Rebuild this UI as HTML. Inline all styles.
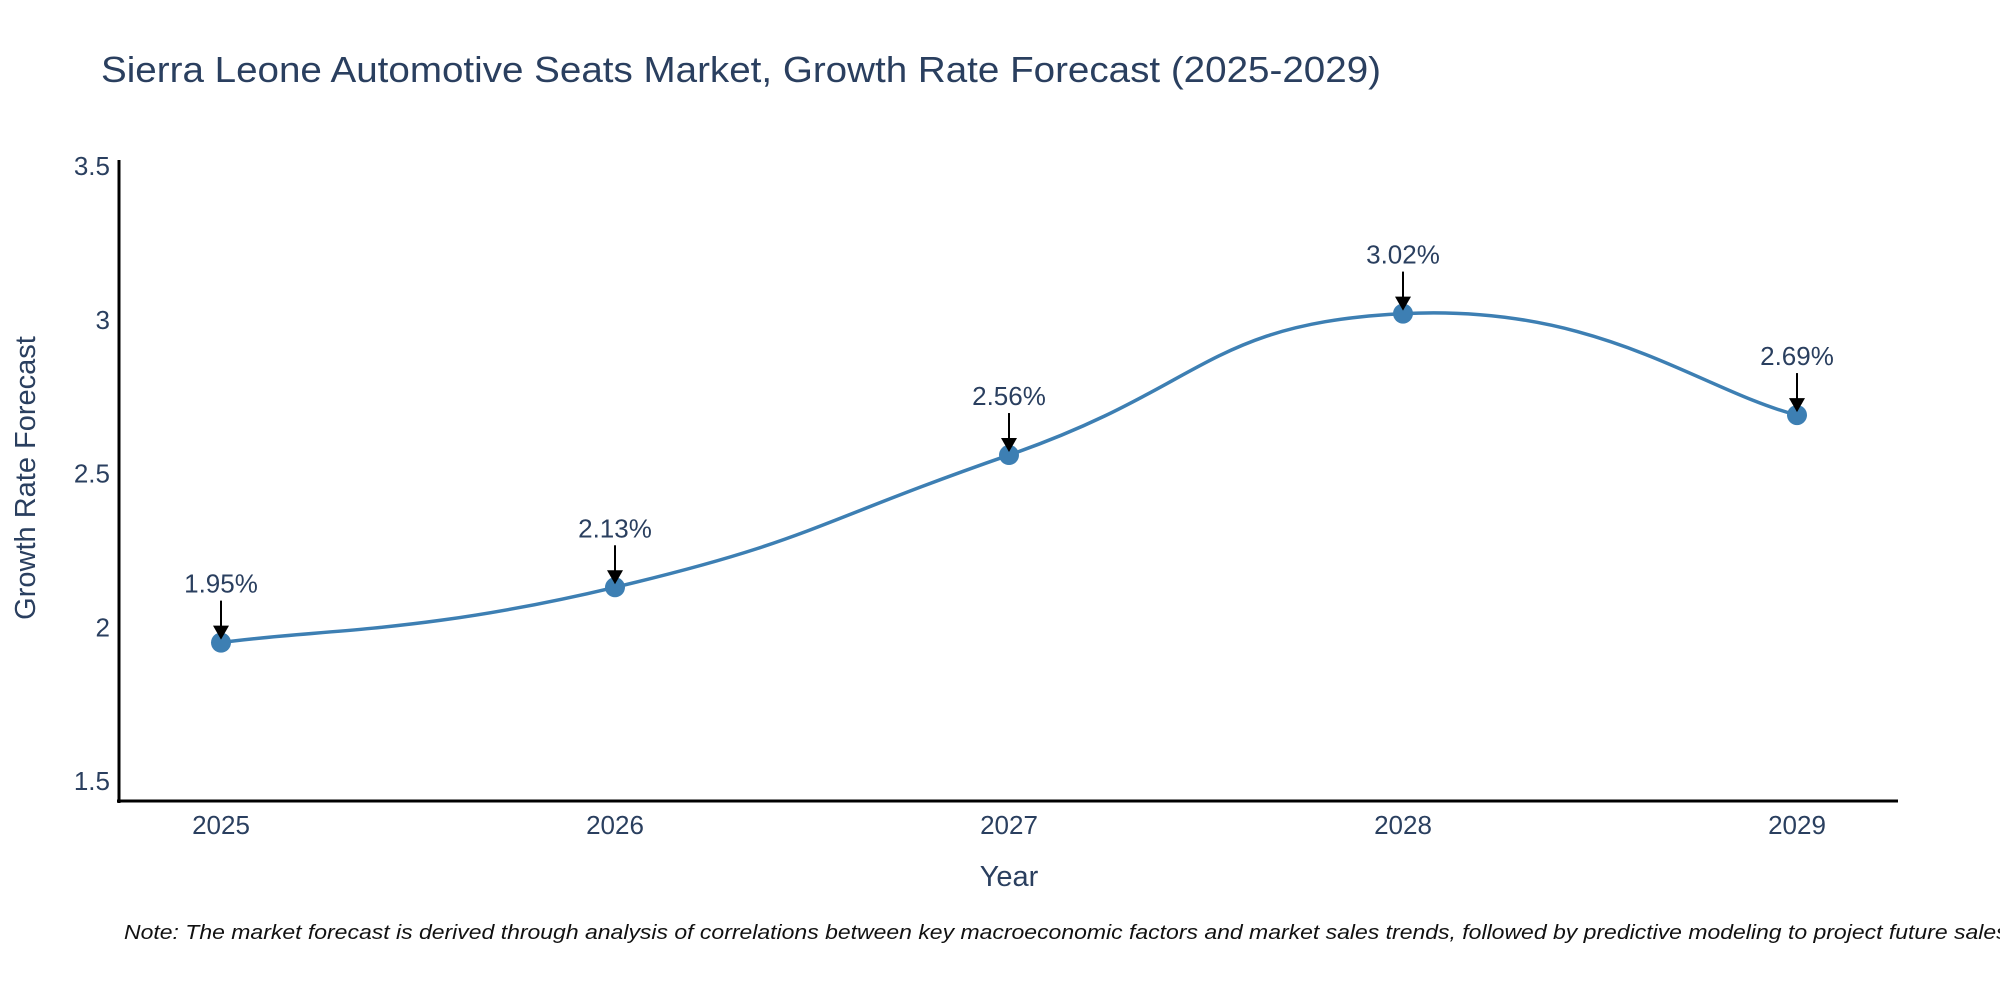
<!DOCTYPE html>
<html><head><meta charset="utf-8"><style>
html,body{margin:0;padding:0;background:#fff;}
svg{display:block;font-family:"Liberation Sans",sans-serif;}
</style></head><body>
<svg id="chart" width="2000" height="1000" viewBox="0 0 2000 1000">
<text x="101" y="82" font-size="36" fill="#2a3f5f" textLength="1280" lengthAdjust="spacingAndGlyphs">Sierra Leone Automotive Seats Market, Growth Rate Forecast (2025-2029)</text>
<g id="yticks"></g>
<g id="xticks"></g>
<line x1="119" y1="160" x2="119" y2="803" stroke="#000" stroke-width="3"/>
<line x1="117" y1="801" x2="1898" y2="801" stroke="#000" stroke-width="3"/>
<path id="curve" fill="none" stroke="#3d7fb3" stroke-width="3.5"/>
<g id="marks"></g>
<text transform="translate(35,478) rotate(-90)" text-anchor="middle" font-size="29" fill="#2a3f5f">Growth Rate Forecast</text>
<text x="1009" y="886" text-anchor="middle" font-size="29" fill="#2a3f5f">Year</text>
<text x="124" y="939" font-size="20" font-style="italic" fill="#111" textLength="1890" lengthAdjust="spacingAndGlyphs">Note: The market forecast is derived through analysis of correlations between key macroeconomic factors and market sales trends, followed by predictive modeling to project future sales.</text>
</svg>
<script>
const years = ["2025","2026","2027","2028","2029"];
const values = [1.95, 2.13, 2.56, 3.02, 2.69];
const labels = ["1.95%","2.13%","2.56%","3.02%","2.69%"];
const yTicks = [1.5, 2, 2.5, 3, 3.5];
const yTickLabels = ["1.5","2","2.5","3","3.5"];

const NS = "http://www.w3.org/2000/svg";
function xScale(i){ return 221 + i * 394; }
function yScale(v){ return 781 - (v - 1.5) * 307.5; }
function mk(tag, attrs, parent){ const e=document.createElementNS(NS,tag); for(const k in attrs) e.setAttribute(k,attrs[k]); parent.appendChild(e); return e; }

const yg=document.getElementById('yticks');
yTicks.forEach((t,i)=>{
  const e=mk('text',{x:110,y:yScale(t)+9,'text-anchor':'end','font-size':26,fill:'#2a3f5f'},yg);
  
  
  e.textContent=yTickLabels[i];
});
const xg=document.getElementById('xticks');
years.forEach((y,i)=>{
  const e=mk('text',{x:xScale(i),y:834,'text-anchor':'middle','font-size':26,fill:'#2a3f5f'},xg);
  
  
  e.textContent=y;
});

const pts=values.map((v,i)=>[xScale(i),yScale(v)]);
let d=`M${pts[0][0]},${pts[0][1]}`;
const s=0.25;
for(let i=0;i<pts.length-1;i++){
  const p0=pts[Math.max(i-1,0)],p1=pts[i],p2=pts[i+1],p3=pts[Math.min(i+2,pts.length-1)];
  const c1=[p1[0]+(p2[0]-p0[0])*s,p1[1]+(p2[1]-p0[1])*s];
  const c2=[p2[0]-(p3[0]-p1[0])*s,p2[1]-(p3[1]-p1[1])*s];
  d+=` C${c1[0]},${c1[1]} ${c2[0]},${c2[1]} ${p2[0]},${p2[1]}`;
}
document.getElementById('curve').setAttribute('d',d);

const mg=document.getElementById('marks');
pts.forEach((p,i)=>{
  const c=mk('circle',{cx:p[0],cy:p[1],r:10,fill:'#3d7fb3'},mg);
  
  
  const l=mk('line',{x1:p[0],y1:p[1]-42,x2:p[0],y2:p[1]-16,stroke:'#000','stroke-width':2},mg);
  
  
  const h=mk('polygon',{points:`${p[0]-8},${p[1]-17} ${p[0]+8},${p[1]-17} ${p[0]},${p[1]-3}`,fill:'#000'},mg);
  
  
  const t=mk('text',{x:p[0],y:p[1]-50,'text-anchor':'middle','font-size':26,fill:'#2a3f5f'},mg);
  
  
  t.textContent=labels[i];
});
</script>
</body></html>
